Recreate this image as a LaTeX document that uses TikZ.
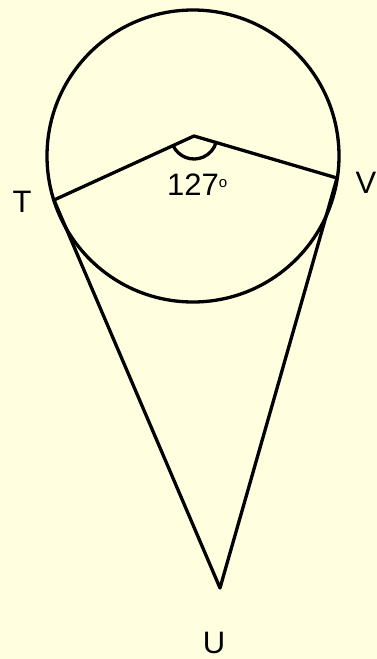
\documentclass[tikz,border=0pt]{standalone}
\usepackage{fontspec}
\setmainfont{Liberation Sans}
\definecolor{bgyellow}{HTML}{FFFFE0}
\begin{document}
\begin{tikzpicture}[x=1pt,y=1pt,
  geo/.style={line width=3.3pt,black,line join=round,line cap=round},
  lab/.style={font=\fontsize{31}{34}\selectfont,inner sep=0pt,anchor=center}]
\fill[bgyellow] (0,0) rectangle (377,-659);
\useasboundingbox (0,0) rectangle (377,-659);
\coordinate (C) at (193,-156);
\coordinate (O) at (194,-136);
\coordinate (T) at (54,-200);
\coordinate (V) at (337,-178);
\coordinate (U) at (220,-588);
\draw[geo] (C) circle[radius=146];
\draw[geo] (T) -- (O) -- (V);
\draw[geo] (T) -- (U) -- (V);
\draw[geo] (O) ++(204.6:23) arc[start angle=204.6,end angle=343.6,radius=23];
\node[lab] (tl) at (22,-202) {T};
\node[lab] (vl) at (366,-183) {V};
\node[lab] (ul) at (214,-643) {U};
\node[lab,anchor=base west] (al) at (167,-195) {127\raisebox{0.45ex}{\fontsize{15}{17}\selectfont o}};
\end{tikzpicture}
\end{document}
